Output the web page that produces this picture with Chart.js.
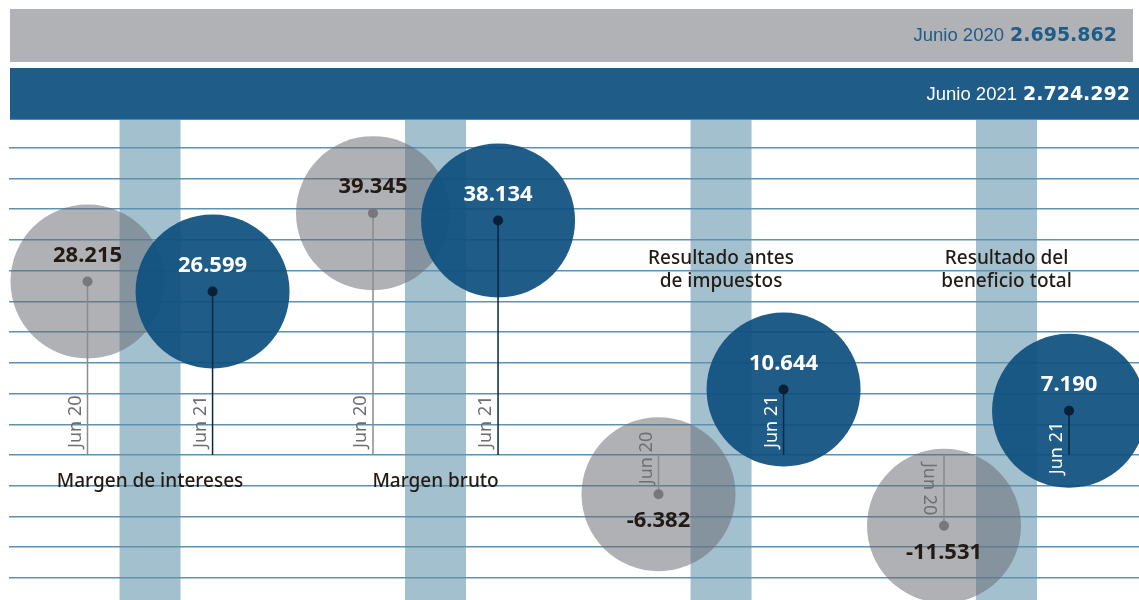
<!DOCTYPE html>
<html>
<head>
<meta charset="utf-8">
<script src="https://cdn.jsdelivr.net/npm/chart.js@4.4.1/dist/chart.umd.min.js"></script>
<style>
  html, body { margin: 0; padding: 0; background: #ffffff; }
  #wrap { position: relative; width: 1139px; height: 600px; }
</style>
</head>
<body>
<div id="wrap"><canvas id="myChart"></canvas></div>
<script>
// data (miles de euros)
const categories = [["Margen de intereses"], ["Margen bruto"], ["Resultado antes", "de impuestos"], ["Resultado del", "beneficio total"]];
const periodLabels = ["Jun 20", "Jun 21"];
const valuesJun20 = [28.215, 39.345, -6.382, -11.531];
const valuesJun21 = [26.599, 38.134, 10.644, 7.190];
const totalLabels = ["Junio 2020", "Junio 2021"];
const totalValues = ["2.695.862", "2.724.292"];
const gridStep = 5;

const GRAY = "#b1b2b6";
const BLUE = "#1f5c88";
const BAND = "#a3c0cf";
const INK = "#231a14";
const PAIR_OFFSET = 0.219;

function fmt(v) {
  return v.toFixed(3);
}

const decorPlugin = {
  id: "decor",
  beforeDraw(chart) {
    const ctx = chart.ctx;
    const xs = chart.scales.x;
    const area = chart.chartArea;
    ctx.save();
    // light blue bands behind every group
    ctx.fillStyle = BAND;
    for (let i = 0; i < categories.length; i++) {
      const cx = xs.getPixelForValue(i);
      ctx.fillRect(cx - 30.5, area.top, 61, area.bottom - area.top);
    }
    // banners with the totals
    ctx.fillStyle = GRAY;
    ctx.fillRect(10, 9, 1123, 53);
    ctx.fillStyle = BLUE;
    ctx.fillRect(10, 68, 1129, 52);
    ctx.fillStyle = "#3a97bf";
    ctx.fillRect(10, 119, 1129, 1);

    const rows = [{ y: 36, right: 1117, color: BLUE }, { y: 95, right: 1130, color: "#ffffff" }];
    ctx.textBaseline = "middle";
    for (let r = 0; r < rows.length; r++) {
      ctx.fillStyle = rows[r].color;
      ctx.textAlign = "right";
      ctx.font = "bold 19px 'DejaVu Sans'";
      ctx.fillText(totalValues[r], rows[r].right, rows[r].y);
      const w = ctx.measureText(totalValues[r]).width;
      ctx.font = "18.5px 'Liberation Sans'";
      ctx.fillText(totalLabels[r], rows[r].right - w - 6, rows[r].y);
    }
    ctx.restore();
  },
  afterDatasetsDraw(chart) {
    const ctx = chart.ctx;
    const ys = chart.scales.y;
    const xs = chart.scales.x;
    const zero = ys.getPixelForValue(0);
    ctx.save();

    chart.data.datasets.forEach((ds, d) => {
      const meta = chart.getDatasetMeta(d);
      const isBlue = ds.label === periodLabels[1];
      meta.data.forEach((pt, i) => {
        const v = ds.data[i].y;
        const x = pt.x;
        const y = pt.y;
        const r = ds.pointRadius;

        // stem
        ctx.strokeStyle = isBlue ? "#0b2640" : "#8a8a90";
        ctx.lineWidth = 1.5;
        ctx.beginPath();
        ctx.moveTo(x, y);
        ctx.lineTo(x, zero);
        ctx.stroke();

        // dot
        ctx.fillStyle = isBlue ? "#0a2036" : "#77777d";
        ctx.beginPath();
        ctx.arc(x, y, 5, 0, Math.PI * 2);
        ctx.fill();

        // value
        ctx.fillStyle = isBlue ? "#ffffff" : INK;
        ctx.font = "bold 22px 'Noto Sans'";
        ctx.textAlign = "center";
        ctx.textBaseline = "middle";
        ctx.fillText(fmt(v), x, v >= 0 ? y - 26 : y + 27);

        // period label along the stem
        ctx.font = "18px 'Noto Sans'";
        const tw = ctx.measureText(ds.label).width;
        const stem = Math.abs(zero - y);
        let rot = -Math.PI / 2, ax = x - 7, ay, align = "left";
        let far;
        if (v >= 0 && stem >= 60) {
          ay = zero - 7; far = ay - tw;
        } else if (v >= 0) {
          ay = y + 11; align = "right"; far = ay + tw;
        } else if (stem >= 60) {
          rot = Math.PI / 2; ax = x - 20; ay = zero + 8; far = ay + tw;
        } else {
          ay = y - 10; far = ay - tw;
        }
        const inside = Math.abs(far - y) < r && Math.abs(ay - y) < r;
        ctx.fillStyle = isBlue && inside ? "#ffffff" : "#6e6e73";
        ctx.save();
        ctx.translate(ax, ay);
        ctx.rotate(rot);
        ctx.textAlign = align;
        ctx.textBaseline = "alphabetic";
        ctx.fillText(ds.label, 0, 0);
        ctx.restore();
      });
    });

    // category names
    ctx.fillStyle = INK;
    ctx.font = "500 19px 'Noto Sans'";
    ctx.textAlign = "center";
    ctx.textBaseline = "middle";
    for (let i = 0; i < categories.length; i++) {
      const cx = xs.getPixelForValue(i);
      const below = Math.min(valuesJun20[i], valuesJun21[i]) >= 0;
      const lines = categories[i];
      lines.forEach((t, k) => {
        const ty = below ? zero + 27 + k * 23 : zero - 196 + k * 23;
        ctx.fillText(t, cx, ty);
      });
    }
    ctx.restore();
  }
};

const ctx = document.getElementById("myChart").getContext("2d");
const chart = new Chart(ctx, {
  type: "scatter",
  data: {
    datasets: [
      {
        label: periodLabels[1],
        data: valuesJun21.map((v, i) => ({ x: i + PAIR_OFFSET, y: v })),
        backgroundColor: "rgba(14, 80, 127, 0.93)",
        borderWidth: 0,
        pointRadius: 77,
        pointHoverRadius: 77,
        clip: false,
        order: 0
      },
      {
        label: periodLabels[0],
        data: valuesJun20.map((v, i) => ({ x: i - PAIR_OFFSET, y: v })),
        backgroundColor: "rgba(103, 105, 113, 0.52)",
        borderWidth: 0,
        pointRadius: 77,
        pointHoverRadius: 77,
        clip: false,
        order: 1
      }
    ]
  },
  options: {
    responsive: true,
    maintainAspectRatio: false,
    animation: false,
    events: [],
    layout: { autoPadding: false, padding: { top: 120, left: 9, right: 0, bottom: 0 } },
    plugins: {
      legend: { display: false },
      tooltip: { enabled: false }
    },
    scales: {
      x: {
        type: "linear",
        display: false,
        min: -0.494,
        max: 3.464
      },
      y: {
        type: "linear",
        min: -23.6,
        max: 54.5,
        border: { display: false },
        ticks: { display: false, stepSize: gridStep },
        grid: {
          drawTicks: false,
          lineWidth: 1.4,
          color: (c) => (c.tick && Math.abs(c.tick.value % gridStep) < 1e-6 ? "#5f92b2" : "rgba(0,0,0,0)")
        }
      }
    }
  },
  plugins: [decorPlugin]
});
</script>
</body>
</html>
